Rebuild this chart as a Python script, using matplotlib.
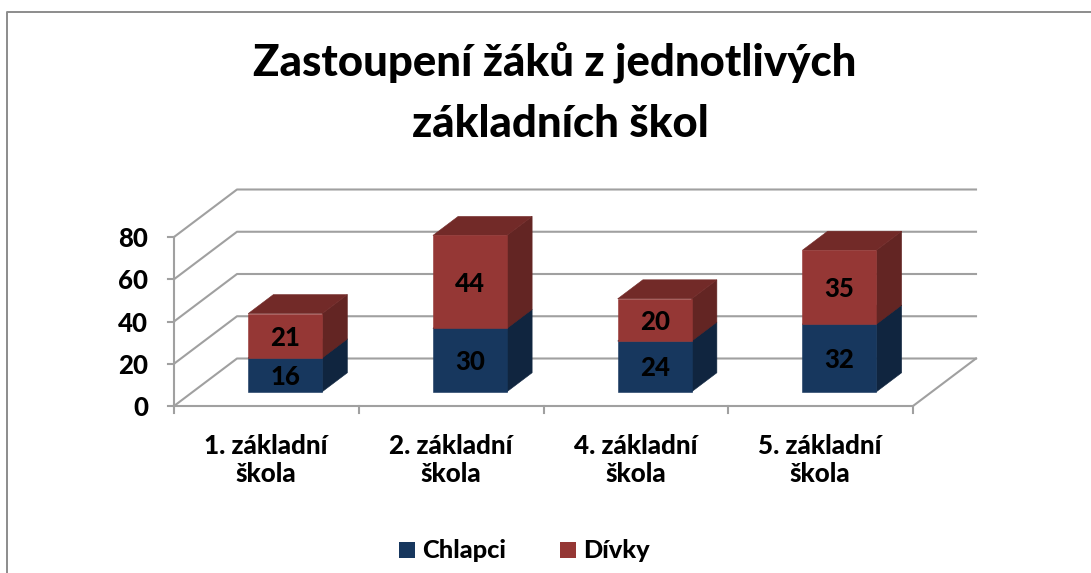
# Stacked pseudo-3D column chart (pupils per primary school)
import matplotlib
matplotlib.use("Agg")
import matplotlib.pyplot as plt
from matplotlib.patches import Polygon, Rectangle

schools = ["1. základní\nškola", "2. základní\nškola", "4. základní\nškola", "5. základní\nškola"]
chlapci = [16, 30, 24, 32]
divky = [21, 44, 20, 35]
y_ticks = [0, 20, 40, 60, 80]
title = "Zastoupení žáků z jednotlivých\nzákladních škol"

BLUE = ["#17375e", "#10253f", "#10253f"]
RED = ["#953735", "#632523", "#722a28"]
GRID = "#a0a0a0"
FONT = "Lato"
WEIGHT = "black"

# chart box in pixels
X0, Y0 = 174, 406
CAT_W = 184.75
UNIT = 169 / 80
DX, DY = 63, -47.5
BAR_W = 74
D_FRONT, D_BACK = 0.3, 0.7


def pt(cat, val, depth=0.0):
    return (X0 + cat * CAT_W + depth * DX, Y0 - val * UNIT + depth * DY)


def draw_box(ax, i, low, high, colors):
    left = i + 0.5 - (BAR_W / 2 + 19 - D_FRONT * DX) / CAT_W
    right = left + BAR_W / CAT_W
    front = [pt(left, low, D_FRONT), pt(right, low, D_FRONT), pt(right, high, D_FRONT), pt(left, high, D_FRONT)]
    side = [pt(right, low, D_FRONT), pt(right, low, D_BACK), pt(right, high, D_BACK), pt(right, high, D_FRONT)]
    top = [pt(left, high, D_FRONT), pt(right, high, D_FRONT), pt(right, high, D_BACK), pt(left, high, D_BACK)]
    ax.add_patch(Polygon(side, fc=colors[1], ec=colors[1], lw=0.4, zorder=3))
    ax.add_patch(Polygon(top, fc=colors[2], ec=colors[2], lw=0.4, zorder=3))
    ax.add_patch(Polygon(front, fc=colors[0], ec=colors[0], lw=0.4, zorder=4))
    cx = (left + right) / 2
    ax.text(*pt(cx, (low + high) / 2, D_FRONT), str(high - low), ha="center", va="center_baseline",
            fontsize=18.5, fontweight=WEIGHT, family=FONT, color="black", zorder=5)


fig = plt.figure(figsize=(10.91, 5.73), dpi=100)
ax = fig.add_axes([0, 0, 1, 1])
ax.set_xlim(0, 1091)
ax.set_ylim(573, 0)
ax.axis("off")

# frame: only top and left edges show in the crop
ax.plot([1091, 7, 7], [11.5, 11.5, 573], color="#8c8c8c", lw=1.4, zorder=0)

ax.text(555, 62, title.split("\n")[0], ha="center", va="center", fontsize=31.5, fontweight=WEIGHT, family=FONT)
ax.text(560, 124, title.split("\n")[1], ha="center", va="center", fontsize=31.5, fontweight=WEIGHT, family=FONT)

n = len(schools)
for t in y_ticks:
    ax.plot(*zip(pt(0, t), pt(0, t, 1), pt(n, t, 1)), color=GRID, lw=1.5, zorder=1)
    ax.plot(*zip(pt(0, t), (X0 - 6, Y0 - t * UNIT)), color=GRID, lw=1.5, zorder=1)
    ax.text(X0 - 26, Y0 - t * UNIT, str(t), ha="right", va="center_baseline", fontsize=18.5,
            fontweight=WEIGHT, family=FONT)

ax.plot(*zip(pt(0, 0), pt(0, 80)), color=GRID, lw=1.5, zorder=1)
ax.plot(*zip(pt(0, 0), pt(n, 0), pt(n, 0, 1)), color=GRID, lw=1.5, zorder=1)
for c in range(n + 1):
    ax.plot(*zip(pt(c, 0), (X0 + c * CAT_W, Y0 + 7)), color=GRID, lw=1.5, zorder=1)

for i, name in enumerate(schools):
    draw_box(ax, i, 0, chlapci[i], BLUE)
    draw_box(ax, i, chlapci[i], chlapci[i] + divky[i], RED)
    ax.text(X0 + (i + 0.5) * CAT_W - 0.5, 460, name, ha="center", va="center", fontsize=18.7, fontweight=WEIGHT,
            family=FONT, linespacing=1.25)

# legend
ax.add_patch(Rectangle((399, 542), 16, 16, fc=BLUE[0], ec="none"))
ax.text(422, 549, "Chlapci", ha="left", va="center_baseline", fontsize=18.3, fontweight=WEIGHT, family=FONT)
ax.add_patch(Rectangle((560, 542), 16, 16, fc=RED[0], ec="none"))
ax.text(583, 549, "Dívky", ha="left", va="center_baseline", fontsize=18.3, fontweight=WEIGHT, family=FONT)

fig.savefig("out.png", dpi=100)
